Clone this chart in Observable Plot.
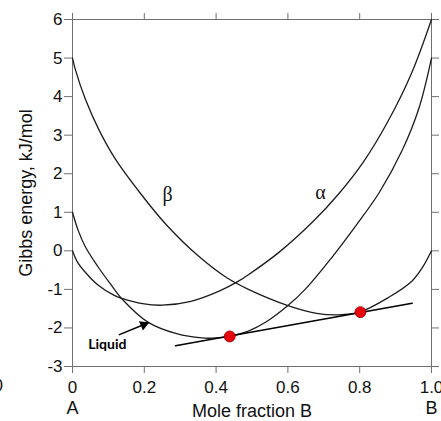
<!DOCTYPE html>
<html><head><meta charset="utf-8">
<script src="https://cdn.jsdelivr.net/npm/d3@7"></script>
<script src="https://cdn.jsdelivr.net/npm/@observablehq/plot@0.6"></script>
<style>
body{margin:0;background:#fff}
#chart{width:441px;height:421px;overflow:hidden}
</style>
</head><body><div id="chart"></div>
<script>
// Tick values
const xTicks = [0, 0.2, 0.4, 0.6, 0.8, 1.0];
const yTicks = [-3, -2, -1, 0, 1, 2, 3, 4, 5, 6];

// Liquid curve
const liquidX = [0, 0.015, 0.035, 0.07, 0.105, 0.14, 0.21, 0.29, 0.36, 0.40, 0.44, 0.49, 0.54, 0.60, 0.65, 0.72, 0.79, 0.855, 0.918, 0.965, 1.0];
const liquidG = [1.0, 0.55, 0.12, -0.40, -0.85, -1.27, -1.85, -2.15, -2.26, -2.26, -2.21, -2.08, -1.84, -1.42, -0.98, -0.20, 0.66, 1.52, 2.60, 3.70, 5.0];

// alpha curve
const alphaX = [0, 0.013, 0.035, 0.07, 0.115, 0.14, 0.195, 0.25, 0.33, 0.41, 0.46, 0.49, 0.575, 0.67, 0.74, 0.81, 0.88, 0.945, 1.0];
const alphaG = [0, -0.28, -0.55, -0.88, -1.15, -1.24, -1.37, -1.41, -1.31, -1.04, -0.80, -0.62, -0.04, 0.76, 1.46, 2.30, 3.38, 4.62, 6.0];

// beta curve
const betaX = [0, 0.008, 0.036, 0.073, 0.12, 0.19, 0.26, 0.35, 0.43, 0.49, 0.60, 0.68, 0.74, 0.80, 0.88, 0.946, 0.975, 1.0];
const betaG = [5.0, 4.70, 3.93, 3.15, 2.37, 1.48, 0.69, -0.13, -0.70, -1.00, -1.42, -1.62, -1.66, -1.59, -1.21, -0.78, -0.43, 0.0];

// common tangent line and tangent points
const tangentX = [0.287, 0.946];
const tangentG = [-2.46, -1.36];
const pointX = [0.438, 0.802];
const pointG = [-2.22, -1.59];

// annotations
const phaseLabels = ["β", "α"];
const phaseLabelX = [0.265, 0.691];
const phaseLabelG = [1.47, 1.50];
const liquidLabel = "Liquid";
const liquidLabelX = 0.097;
const liquidLabelG = -2.435;
const arrowFrom = [0.129, -2.18];
const arrowTo = [0.213, -1.86];
const endLabels = ["A", "B"];
const endLabelX = [0, 1];
const xTitle = "Mole fraction B";
const yTitle = "Gibbs energy, kJ/mol";

const rows = (name, xs, gs) => xs.map((x, i) => ({phase: name, x, g: gs[i]}));
const curves = [...rows("Liquid", liquidX, liquidG), ...rows("alpha", alphaX, alphaG), ...rows("beta", betaX, betaG)];
const tangent = rows("tangent", tangentX, tangentG);
const points = rows("pt", pointX, pointG);
const greek = phaseLabels.map((t, i) => ({t, x: phaseLabelX[i], g: phaseLabelG[i]}));
const arrow = [{x1: arrowFrom[0], y1: arrowFrom[1], x2: arrowTo[0], y2: arrowTo[1]}];
const ends = endLabels.map((t, i) => ({t, x: endLabelX[i]}));

const axisColor = "#707070";
const plot = Plot.plot({
  width: 441, height: 421,
  marginLeft: 72, marginRight: 10, marginTop: 19, marginBottom: 55,
  style: {fontFamily: "'Liberation Sans', Arial, sans-serif", fontSize: "17px", color: "#111", background: "#fff", overflow: "visible"},
  x: {domain: [0, 1]},
  y: {domain: [-3, 6]},
  marks: [
    Plot.frame({stroke: axisColor}),
    Plot.axisX({ticks: xTicks, tickSize: 7, tickPadding: 7, stroke: axisColor, fill: "#111", label: null,
      tickFormat: d => d === 0 ? "0" : d.toFixed(1)}),
    Plot.axisX({anchor: "top", ticks: xTicks, tickSize: 7, stroke: axisColor, label: null, tickFormat: () => ""}),
    Plot.axisY({ticks: yTicks, tickSize: 8, tickPadding: 2, stroke: axisColor, fill: "#111", label: null,
      tickFormat: d => String(d)}),
    Plot.axisY({anchor: "right", ticks: yTicks, tickSize: 7, stroke: axisColor, label: null, tickFormat: () => ""}),
    Plot.line(curves, {x: "x", y: "g", z: "phase", curve: "catmull-rom", stroke: "#1c1c1c", strokeWidth: 1.3}),
    Plot.line(tangent, {x: "x", y: "g", stroke: "#000", strokeWidth: 1.6}),
    Plot.dot(points, {x: "x", y: "g", r: 5.5, fill: "#e8000b", stroke: "#a00000", strokeWidth: 0.8}),
    Plot.link(arrow, {x1: "x1", y1: "y1", x2: "x2", y2: "y2", stroke: "#000", strokeWidth: 1.5}),
    Plot.dot(arrow, {x: "x2", y: "y2", symbol: "triangle", r: 3.8, fill: "#000", rotate: 67, dx: -5.3, dy: 2.2}),
    Plot.text([liquidLabel], {x: () => liquidLabelX, y: () => liquidLabelG, text: d => d,
      fontFamily: "Lato, 'Open Sans', sans-serif", fontWeight: "bold", fontSize: 14, fill: "#000"}),
    Plot.text(greek, {x: "x", y: "g", text: "t", fontFamily: "'Liberation Serif', 'DejaVu Serif', serif", fontSize: 20, fill: "#111"}),
    Plot.text(ends, {x: "x", text: "t", frameAnchor: "bottom", lineAnchor: "middle", dy: 42, fontSize: 18, fill: "#111"}),
    Plot.text([xTitle], {frameAnchor: "bottom", lineAnchor: "middle", dy: 45, fontSize: 18, fill: "#111"}),
    Plot.text([yTitle], {frameAnchor: "left", textAnchor: "middle", lineAnchor: "middle", dx: -46, rotate: -90, fontSize: 18, fill: "#111"}),
    Plot.text(["0"], {frameAnchor: "bottom-left", textAnchor: "start", lineAnchor: "middle", dx: -79, dy: 19, fontSize: 17, fill: "#111"})
  ]
});
document.getElementById("chart").appendChild(plot);
</script>
</body></html>
